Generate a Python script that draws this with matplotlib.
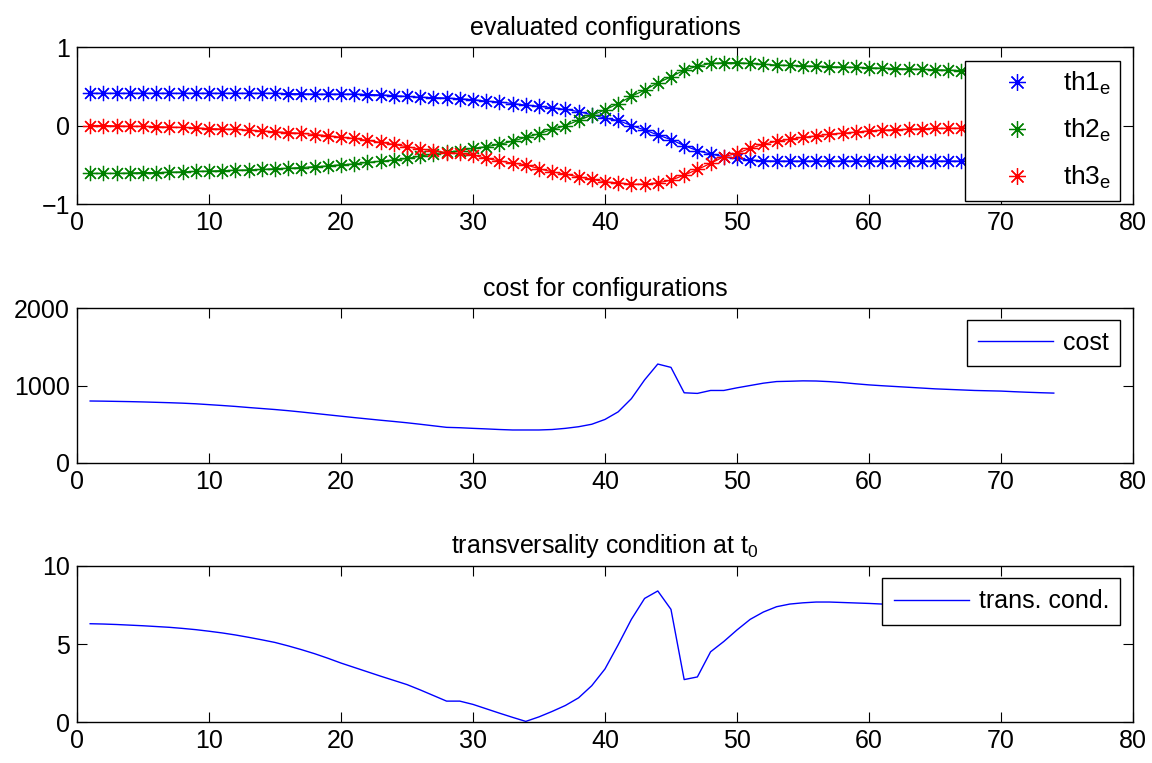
import numpy as np
import matplotlib
matplotlib.use("Agg")
import matplotlib.pyplot as plt
from matplotlib.lines import Line2D

plt.rcParams['font.family'] = ['Liberation Sans', 'DejaVu Sans']
plt.rcParams['mathtext.default'] = 'regular'
plt.rcParams['font.size'] = 18

# evaluated joint configurations
th1 = [0.41, 0.41, 0.41, 0.41, 0.41, 0.41, 0.41, 0.41, 0.41, 0.41,
       0.41, 0.41, 0.41, 0.41, 0.41, 0.405, 0.405, 0.40, 0.40, 0.40,
       0.40, 0.395, 0.39, 0.38, 0.37, 0.36, 0.355, 0.35, 0.34, 0.33,
       0.31, 0.30, 0.28, 0.26, 0.245, 0.225, 0.205, 0.178, 0.137, 0.094,
       0.064, 0.0, -0.056, -0.12, -0.18, -0.256, -0.32, -0.363, -0.397, -0.419,
       -0.44, -0.45, -0.453, -0.453, -0.453, -0.453, -0.453, -0.453, -0.453, -0.453,
       -0.453, -0.453, -0.453, -0.453, -0.453, -0.453, -0.453, -0.453, -0.453, -0.453,
       -0.453, -0.453, -0.453, -0.453]
th2 = [-0.61, -0.61, -0.61, -0.605, -0.60, -0.60, -0.595, -0.59, -0.585, -0.58,
       -0.575, -0.57, -0.565, -0.56, -0.55, -0.545, -0.535, -0.525, -0.515, -0.50,
       -0.49, -0.47, -0.455, -0.44, -0.42, -0.39, -0.36, -0.34, -0.32, -0.29,
       -0.27, -0.24, -0.20, -0.15, -0.105, -0.05, -0.002, 0.067, 0.13, 0.20,
       0.278, 0.372, 0.45, 0.543, 0.62, 0.705, 0.756, 0.79, 0.80, 0.80,
       0.79, 0.78, 0.77, 0.765, 0.76, 0.755, 0.75, 0.745, 0.74, 0.735,
       0.73, 0.725, 0.72, 0.715, 0.71, 0.705, 0.70, 0.70, 0.695, 0.69,
       0.69, 0.685, 0.685, 0.68]
th3 = [0.0, 0.0, -0.005, -0.01, -0.01, -0.015, -0.02, -0.025, -0.03, -0.04,
       -0.045, -0.05, -0.06, -0.07, -0.08, -0.09, -0.10, -0.115, -0.13, -0.15,
       -0.165, -0.19, -0.215, -0.24, -0.27, -0.30, -0.32, -0.345, -0.355, -0.375,
       -0.42, -0.45, -0.48, -0.50, -0.55, -0.59, -0.62, -0.654, -0.684, -0.718,
       -0.73, -0.748, -0.748, -0.73, -0.697, -0.632, -0.56, -0.483, -0.397, -0.355,
       -0.29, -0.24, -0.20, -0.175, -0.15, -0.133, -0.11, -0.098, -0.085, -0.068,
       -0.06, -0.053, -0.047, -0.042, -0.038, -0.036, -0.034, -0.032, -0.03, -0.028,
       -0.026, -0.024, -0.022, -0.02]

# cost for each configuration
cost = [800, 798, 795, 792, 788, 783, 778, 772, 764, 753,
        742, 730, 716, 703, 690, 675, 658, 640, 622, 604,
        586, 569, 552, 536, 519, 500, 480, 460, 455, 447,
        440, 432, 426, 426, 426, 432, 447, 468, 500, 562,
        660, 830, 1072, 1277, 1234, 906, 898, 936, 936, 970,
        1000, 1030, 1051, 1055, 1060, 1058, 1050, 1038, 1022, 1008,
        997, 987, 977, 967, 957, 950, 943, 936, 932, 928,
        920, 913, 907, 902]

# transversality condition at t0
trans = [6.30, 6.28, 6.25, 6.21, 6.17, 6.12, 6.07, 6.00, 5.92, 5.82,
         5.71, 5.58, 5.43, 5.27, 5.10, 4.88, 4.64, 4.38, 4.09, 3.78,
         3.50, 3.22, 2.94, 2.67, 2.40, 2.06, 1.70, 1.34, 1.34, 1.13,
         0.85, 0.57, 0.30, 0.04, 0.33, 0.68, 1.06, 1.55, 2.33, 3.40,
         4.95, 6.58, 7.92, 8.40, 7.22, 2.72, 2.89, 4.50, 5.16, 5.90,
         6.58, 7.05, 7.39, 7.56, 7.64, 7.69, 7.69, 7.66, 7.63, 7.60,
         7.56, 7.52, 7.49, 7.46, 7.43, 7.40, 7.37, 7.35, 7.32, 7.30,
         7.27, 7.25, 7.22, 7.20]

x = np.arange(1, len(cost) + 1)

blue = (0, 0, 1)
green = (0, 0.5, 0)
red = (1, 0, 0)
star = (8, 2, 0)

fig = plt.figure(figsize=(11.52, 7.63), dpi=100)
ax1 = fig.add_axes([0.0668, 0.7326, 0.9167, 0.2058])
ax2 = fig.add_axes([0.0668, 0.3932, 0.9167, 0.2031])
ax3 = fig.add_axes([0.0668, 0.0537, 0.9167, 0.2045])


def style(ax):
    ax.set_xlim(0, 80)
    ax.set_xticks(range(0, 81, 10))
    ax.tick_params(direction='in', length=7, width=0.8, top=True, right=True,
                   labelsize=18, pad=5)
    for s in ax.spines.values():
        s.set_linewidth(1.0)


def box_legend(ax, top, **kw):
    leg = ax.legend(loc='upper right', bbox_to_anchor=(0.988, top), borderaxespad=0,
                    fancybox=False, framealpha=1, edgecolor='black', **kw)
    leg.get_frame().set_linewidth(1.0)
    return leg


# top: configurations
handles = []
for y, c, lab in [(th1, blue, 'th1$_e$'), (th2, green, 'th2$_e$'), (th3, red, 'th3$_e$')]:
    ax1.plot(x, y, '-', color=c, lw=0.9)
    ax1.plot(x, y, linestyle='none', marker=star, color=c, ms=11, mew=0.9)
    handles.append(Line2D([], [], linestyle='none', marker=star, color=c,
                          ms=12, mew=0.9, label=lab))
style(ax1)
ax1.set_ylim(-1, 1)
ax1.set_yticks([-1, 0, 1])
ax1.set_title('evaluated configurations', fontsize=18, pad=9)
box_legend(ax1, 0.911, handles=handles, fontsize=19, labelspacing=0.75,
           handlelength=3.2, handletextpad=0.15, borderpad=0.35)

# middle: cost
ax2.plot(x, cost, color=blue, lw=1.0, label='cost')
style(ax2)
ax2.set_ylim(0, 2000)
ax2.set_yticks([0, 1000, 2000])
ax2.set_title('cost for configurations', fontsize=18, pad=9)
box_legend(ax2, 0.923, fontsize=18, handlelength=3.0, handletextpad=0.4,
           borderpad=0.45)

# bottom: transversality condition
ax3.plot(x, trans, color=blue, lw=1.0, label='trans. cond.')
style(ax3)
ax3.set_ylim(0, 10)
ax3.set_yticks([0, 5, 10])
ax3.set_title('transversality condition at t$_0$', fontsize=18, pad=9)
box_legend(ax3, 0.923, fontsize=18, handlelength=3.0, handletextpad=0.4,
           borderpad=0.45)

fig.savefig('out.png', dpi=100)
